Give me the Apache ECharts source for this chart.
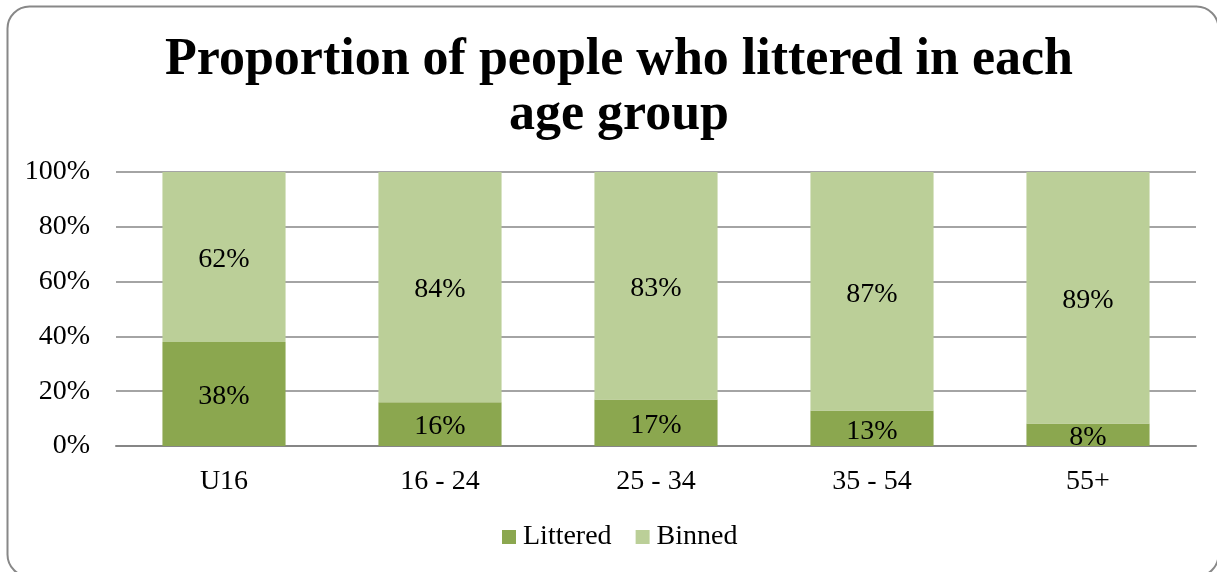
<!DOCTYPE html>
<html>
<head>
<meta charset="utf-8">
<script src="https://cdn.jsdelivr.net/npm/echarts@6/dist/echarts.min.js"></script>
<style>
  html, body { margin: 0; padding: 0; background: #ffffff; }
  #chart { width: 1217px; height: 572px; }
</style>
</head>
<body>
<div id="chart"></div>
<script>
// Age groups and the reported shares (percent) for each behaviour
const categories = ['U16', '16 - 24', '25 - 34', '35 - 54', '55+'];
const littered = [38, 16, 17, 13, 8];
const binned = [62, 84, 83, 87, 89];
const yTicks = [0, 20, 40, 60, 80, 100];

const FONT = '"Liberation Serif", "DejaVu Serif", serif';

// 100% stacked: each column is scaled to its own total, labels keep the reported value
const totals = categories.map((_, i) => littered[i] + binned[i]);
const share = (arr) => arr.map((v, i) => ({ value: v / totals[i] * 100, raw: v }));

const chart = echarts.init(document.getElementById('chart'), null, { renderer: 'canvas' });

const labelCfg = {
  show: true,
  position: 'inside',
  offset: [0, 3],
  color: '#000000',
  fontFamily: FONT,
  fontSize: 28,
  formatter: (p) => p.data.raw + '%'
};

chart.setOption({
  animation: false,
  backgroundColor: '#ffffff',
  title: {
    text: 'Proportion of people who littered in each\nage group',
    left: 614,
    textAlign: 'center',
    top: 28,
    textStyle: {
      fontFamily: FONT,
      fontWeight: 'bold',
      fontSize: 52,
      lineHeight: 55,
      color: '#000000'
    }
  },
  graphic: [{
    type: 'rect',
    shape: { x: 7.5, y: 6.5, width: 1211, height: 570, r: 22 },
    style: { fill: 'none', stroke: '#888888', lineWidth: 2 },
    silent: true,
    z: 100
  }],
  legend: {
    bottom: 16,
    left: 497,
    itemWidth: 14,
    itemHeight: 14,
    itemGap: 24,
    icon: 'rect',
    textStyle: { fontFamily: FONT, fontSize: 28, color: '#000000', padding: [0, 0, 0, 2] },
    data: ['Littered', 'Binned']
  },
  grid: { left: 116, right: 21, top: 172, bottom: 126, containLabel: false },
  xAxis: {
    type: 'category',
    data: categories,
    axisTick: { show: false },
    axisLine: { lineStyle: { color: '#868686', width: 2 } },
    axisLabel: { fontFamily: FONT, fontSize: 28, color: '#000000', margin: 22 }
  },
  yAxis: {
    type: 'value',
    min: yTicks[0],
    max: yTicks[yTicks.length - 1],
    interval: yTicks[1] - yTicks[0],
    axisLine: { show: false },
    axisTick: { show: false },
    splitLine: { lineStyle: { color: '#868686', width: 1.5 } },
    axisLabel: {
      fontFamily: FONT, fontSize: 28, color: '#000000', margin: 26,
      formatter: '{value}%'
    }
  },
  series: [
    {
      name: 'Littered',
      type: 'bar',
      stack: 'total',
      barWidth: '57%',
      itemStyle: { color: '#8ba74f' },
      label: labelCfg,
      data: share(littered)
    },
    {
      name: 'Binned',
      type: 'bar',
      stack: 'total',
      barWidth: '57%',
      itemStyle: { color: '#bbcf98' },
      label: labelCfg,
      data: share(binned)
    }
  ]
});
</script>
</body>
</html>
